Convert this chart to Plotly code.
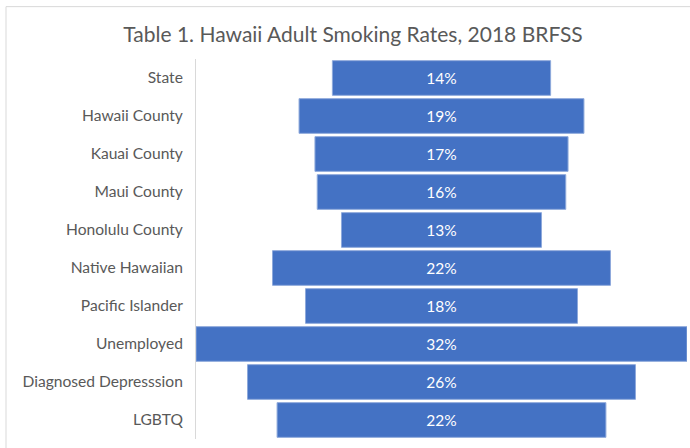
import plotly.graph_objects as go

categories = ["State", "Hawaii County", "Kauai County", "Maui County", "Honolulu County",
              "Native Hawaiian", "Pacific Islander", "Unemployed", "Diagnosed Depresssion", "LGBTQ"]
rates = [14.4, 18.8, 16.7, 16.4, 13.2, 22.3, 17.95, 32.4, 25.6, 21.7]

title_text = "Table 1. Hawaii Adult Smoking Rates, 2018 BRFSS"

W, H = 690, 448
ml, mr, mt, mb = 196, 3, 59.3, 9.2
pw, ph = W - ml - mr, H - mt - mb
FONT = "Lato"

fig = go.Figure(go.Funnel(
    y=categories,
    x=rates,
    texttemplate="%{x:.0f}%",
    textposition="inside",
    insidetextanchor="middle",
    textfont=dict(color="white", size=15.5, family=FONT),
    marker=dict(color="#4472C4", line=dict(color="#8EA9DB", width=1)),
    connector=dict(visible=False),
    hoverinfo="skip",
))

xmax = max(rates)
fig.update_layout(
    width=W, height=H,
    margin=dict(l=ml, r=mr, t=mt, b=mb),
    paper_bgcolor="white", plot_bgcolor="white",
    showlegend=False,
    funnelgap=0.087,
    title=dict(text=title_text, x=353 / W, xanchor="center", xref="container",
               y=1 - 35 / H, yanchor="middle", yref="container",
               font=dict(family=FONT, size=21, color="#595959")),
    font=dict(family=FONT, color="#595959"),
    xaxis=dict(range=[-xmax / 2, xmax / 2], visible=False, fixedrange=True),
    yaxis=dict(showline=True, linecolor="#D9D9D9", linewidth=1, ticks="",
               ticklabelstandoff=9, tickfont=dict(size=15.6, color="#595959"),
               showgrid=False, zeroline=False),
    shapes=[dict(type="rect", xref="paper", yref="paper",
                 x0=(6 - ml) / pw, x1=1.2, y0=-0.2, y1=(H - mb - 7) / ph,
                 line=dict(color="#D9D9D9", width=1), fillcolor="rgba(0,0,0,0)", layer="below")],
)

fig.write_html("out.html", config={"displayModeBar": False},
               post_script="document.body.style.margin='0';document.body.style.padding='0';")
